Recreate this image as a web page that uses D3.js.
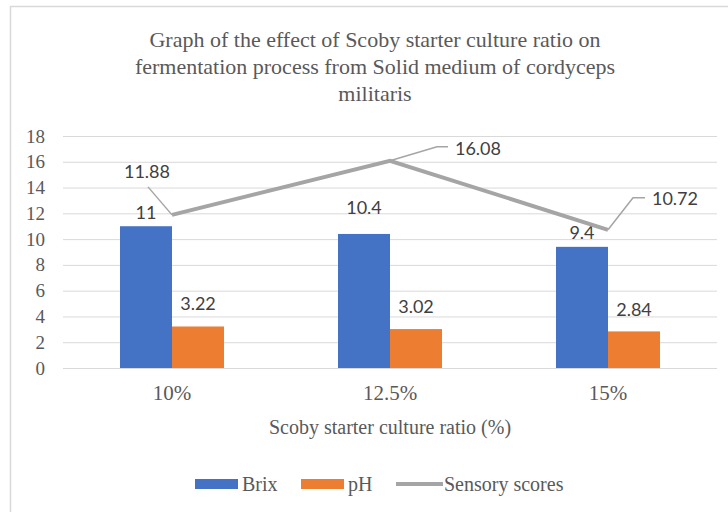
<!DOCTYPE html>
<html>
<head>
<meta charset="utf-8">
<script src="https://cdn.jsdelivr.net/npm/d3@7"></script>
<style>
  body { margin: 0; background: #fff; }
  svg text { fill: #595959; }
</style>
</head>
<body>
<svg id="chart" width="728" height="512"></svg>
<script>
const categories = ["10%", "12.5%", "15%"];
const brix = [11, 10.4, 9.4];
const ph = [3.22, 3.02, 2.84];
const sensory = [11.88, 16.08, 10.72];
const yTicks = [0, 2, 4, 6, 8, 10, 12, 14, 16, 18];
const titleLines = [
    "Graph of the effect of Scoby starter culture ratio on",
    "fermentation process from Solid medium of cordyceps",
    "militaris"
];

const serif = "'Liberation Serif', 'Times New Roman', serif";
const sans = "Lato, 'Liberation Sans', sans-serif";
const blue = "#4472c4", orange = "#ed7d31", gray = "#a5a5a5";

const svg = d3.select("#chart");

// chart frame
svg.append("rect")
    .attr("x", 10.5).attr("y", 6.5)
    .attr("width", 740).attr("height", 540)
    .attr("fill", "none").attr("stroke", "#d9d9d9").attr("stroke-width", 1.5);

// title
svg.append("g").selectAll("text")
    .data(titleLines)
    .enter()
    .append("text")
    .attr("x", 375)
    .attr("y", (d, i) => 47 + i * 27)
    .attr("text-anchor", "middle")
    .style("font-family", serif)
    .style("font-size", "22px")
    .text(d => d);

const x = d3.scaleBand()
    .domain(categories)
    .range([63, 717])
    .paddingInner(0.523)
    .paddingOuter(0.2615);

const xSub = d3.scaleBand()
    .domain(["Brix", "pH"])
    .range([0, x.bandwidth()]);

const y = d3.scaleLinear()
    .domain([0, 18])
    .range([368, 136]);

// gridlines + y labels
const yAxis = d3.axisLeft(y)
    .tickValues(yTicks)
    .tickSize(-(717 - 63))
    .tickPadding(18);
const gy = svg.append("g")
    .attr("transform", "translate(63,0)")
    .call(yAxis);
gy.select(".domain").remove();
gy.selectAll(".tick line").attr("stroke", "#d9d9d9").attr("stroke-width", 1);
gy.selectAll(".tick text")
    .style("font-family", serif)
    .style("font-size", "19px")
    .attr("fill", "#595959");

// x labels
const xAxis = d3.axisBottom(x).tickSize(0).tickPadding(17);
const gx = svg.append("g")
    .attr("transform", "translate(0,368)")
    .call(xAxis);
gx.select(".domain").remove();
gx.selectAll(".tick text")
    .style("font-family", serif)
    .style("font-size", "21px")
    .attr("fill", "#595959");

svg.append("text")
    .attr("x", 390).attr("y", 434)
    .attr("text-anchor", "middle")
    .style("font-family", serif)
    .style("font-size", "20px")
    .text("Scoby starter culture ratio (%)");

// bars
const barSeries = [
    { name: "Brix", values: brix, color: blue, lift: [13, 26, 14] },
    { name: "pH", values: ph, color: orange, lift: [22, 22, 21] }
];

barSeries.forEach(s => {
    const g = svg.append("g");
    g.selectAll("rect")
        .data(s.values)
        .enter()
        .append("rect")
        .attr("x", (d, i) => x(categories[i]) + xSub(s.name))
        .attr("y", d => y(d))
        .attr("width", xSub.bandwidth())
        .attr("height", d => y(0) - y(d))
        .attr("fill", s.color);
    g.selectAll("text")
        .data(s.values)
        .enter()
        .append("text")
        .attr("x", (d, i) => x(categories[i]) + xSub(s.name) + xSub.bandwidth() / 2)
        .attr("y", (d, i) => y(d) - s.lift[i] + 6)
        .attr("text-anchor", "middle")
        .style("font-family", sans)
        .style("font-size", "18px")
        .style("fill", "#404040")
        .text(d => d);
});

// sensory line
const cx = c => x(c) + x.bandwidth() / 2;
const line = d3.line()
    .x((d, i) => cx(categories[i]))
    .y(d => y(d));
svg.append("path")
    .datum(sensory)
    .attr("fill", "none")
    .attr("stroke", gray)
    .attr("stroke-width", 4)
    .attr("d", line);

// sensory labels with leader lines (offsets from the point)
const sensoryLabels = [
    { dx: -25, dy: -43, elbow: null, lead: [-24, -28] },
    { dx: 88, dy: -12, elbow: [47, -14], lead: [58, -14] },
    { dx: 67, dy: -31, elbow: [25, -32], lead: [37, -32] }
];
sensory.forEach((v, i) => {
    const px = cx(categories[i]), py = y(v);
    const L = sensoryLabels[i];
    const pts = [[px, py]];
    if (L.elbow) pts.push([px + L.elbow[0], py + L.elbow[1]]);
    pts.push([px + L.lead[0], py + L.lead[1]]);
    svg.append("path")
        .attr("d", d3.line()(pts))
        .attr("fill", "none")
        .attr("stroke", gray)
        .attr("stroke-width", 1.5);
    svg.append("text")
        .attr("x", px + L.dx)
        .attr("y", py + L.dy + 6)
        .attr("text-anchor", "middle")
        .style("font-family", sans)
        .style("font-size", "18px")
        .style("fill", "#404040")
        .text(v);
});

// legend
const legend = svg.append("g").attr("transform", "translate(0,484)");
const legendItems = [
    { name: "Brix", color: blue, type: "rect", x: 195 },
    { name: "pH", color: orange, type: "rect", x: 301 },
    { name: "Sensory scores", color: gray, type: "line", x: 396 }
];
legendItems.forEach(it => {
    if (it.type === "rect") {
        legend.append("rect")
            .attr("x", it.x).attr("y", -5)
            .attr("width", 43).attr("height", 10)
            .attr("fill", it.color);
    } else {
        legend.append("line")
            .attr("x1", it.x).attr("x2", it.x + 47)
            .attr("y1", 0).attr("y2", 0)
            .attr("stroke", it.color).attr("stroke-width", 4);
    }
    legend.append("text")
        .attr("x", it.x + (it.type === "rect" ? 47 : 48))
        .attr("y", 7)
        .style("font-family", serif)
        .style("font-size", "20px")
        .text(it.name);
});
</script>
</body>
</html>
